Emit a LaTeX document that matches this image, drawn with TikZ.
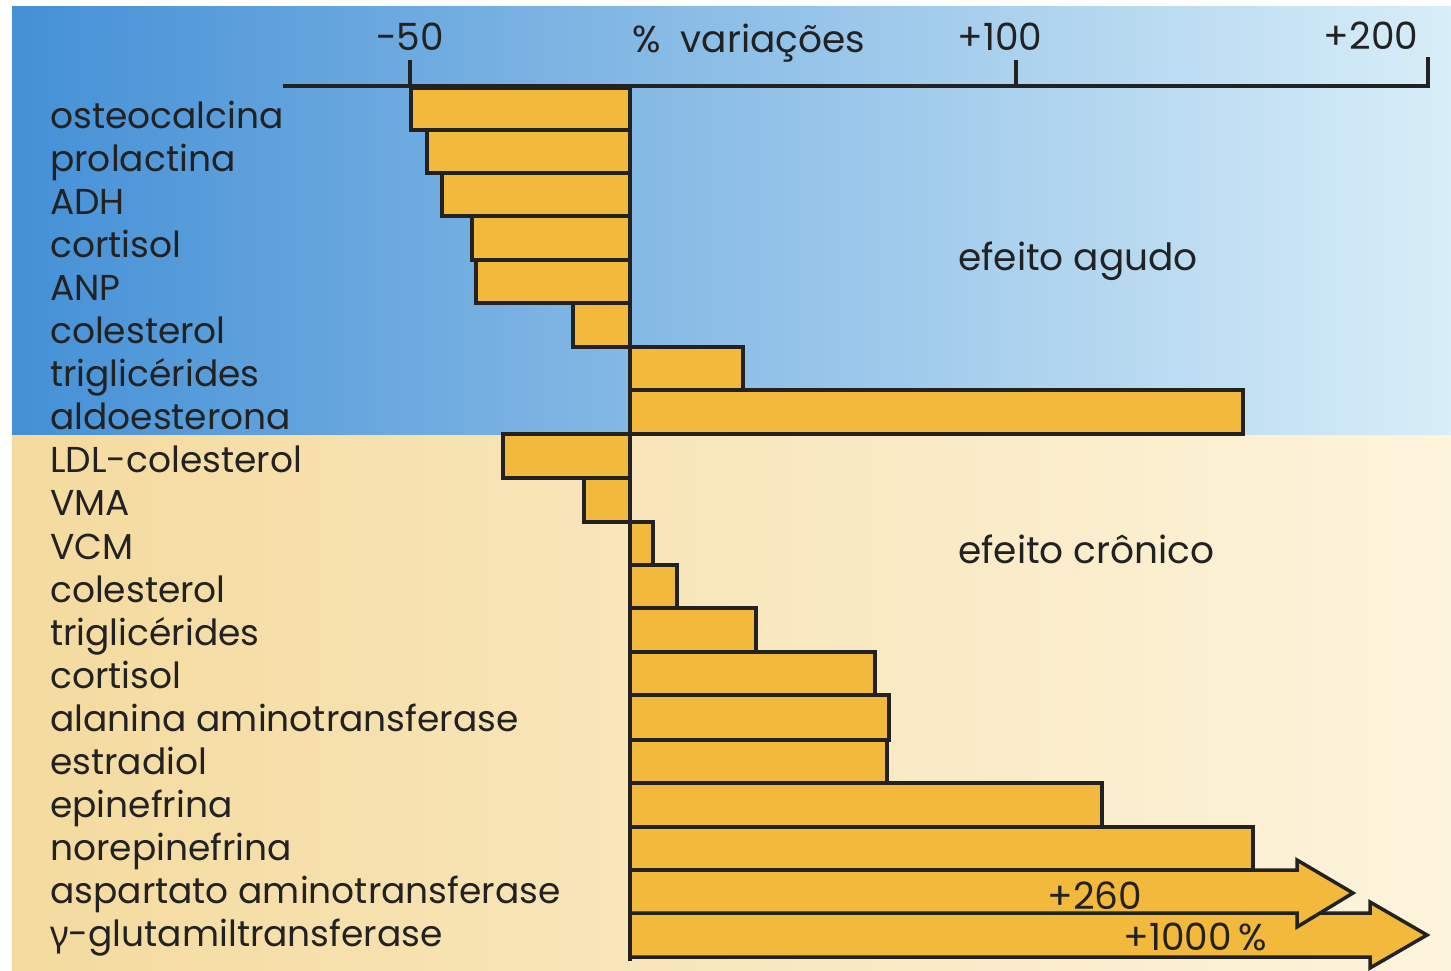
\documentclass[tikz,border=0pt]{standalone}
\usepackage{fontspec}
\setmainfont{Poppins}
\newfontfamily\greekfont{Noto Sans}
\definecolor{ink}{HTML}{222222}
\definecolor{barfill}{HTML}{F2B93C}
\definecolor{blueL}{HTML}{4490D6}
\definecolor{blueR}{HTML}{D8EEF8}
\definecolor{beigeL}{HTML}{F4DA9E}
\definecolor{beigeR}{HTML}{FDF4DC}
\tikzset{
  lbl/.style={anchor=base west, inner sep=0pt, text=ink, font=\fontsize{36}{40}\selectfont},
  biglbl/.style={anchor=base west, inner sep=0pt, text=ink, font=\fontsize{37.5}{42}\selectfont},
  axlbl/.style={anchor=base, inner sep=0pt, text=ink, font=\fontsize{37.5}{42}\selectfont},
  bar/.style={draw=ink, fill=barfill, line width=3.5pt, line join=miter},
  axis/.style={draw=ink, line width=3.5pt}
}
\begin{document}
\begin{tikzpicture}[x=1pt,y=-1pt]
\useasboundingbox (0,0) rectangle (1451,970);
\fill[white] (0,0) rectangle (1451,970);
\shade[left color=blueL, right color=blueR] (12,6) rectangle (1451,435);
\shade[left color=beigeL, right color=beigeR] (12,435) rectangle (1451,970);
% bars
\draw[bar] (411,88) rectangle (630,130);
\draw[bar] (427,130) rectangle (630,173);
\draw[bar] (442,173) rectangle (630,216);
\draw[bar] (472,216) rectangle (630,260);
\draw[bar] (476,260) rectangle (630,303);
\draw[bar] (573,303) rectangle (630,347);
\draw[bar] (630,347) rectangle (743,390);
\draw[bar] (630,390) rectangle (1243,434);
\draw[bar] (503,434) rectangle (630,478);
\draw[bar] (584,478) rectangle (630,522);
\draw[bar] (630,522) rectangle (653,565);
\draw[bar] (630,565) rectangle (677,608);
\draw[bar] (630,608) rectangle (756,652);
\draw[bar] (630,652) rectangle (875,695);
\draw[bar] (630,695) rectangle (889,740);
\draw[bar] (630,740) rectangle (887,783);
\draw[bar] (630,783) rectangle (1102,827);
\draw[bar] (630,827) rectangle (1253,870);
% arrows
\draw[bar] (630,913) -- (1370,913) -- (1370,902) -- (1427,935) -- (1370,968) -- (1370,957) -- (630,957) -- cycle;
\draw[bar] (630,870) -- (1297,870) -- (1297,860) -- (1353,893) -- (1297,927) -- (1297,913) -- (630,913) -- cycle;
\node[axlbl] (v260) at (1095,909) {+260};
\node[axlbl] (v1000) at (1195,950) {+1000\,\%};
% axis
\draw[axis] (283,86) -- (1428,86) -- (1428,57);
\draw[axis] (410,86) -- (410,60);
\draw[axis] (1016,86) -- (1016,60);
\draw[axis] (630,86) -- (630,961);
\node[axlbl] (m50) at (410,50) {-50};
\node[biglbl] (pv) at (632,52) {\%\ \ variações};
\node[axlbl] (p100) at (1000,50) {+100};
\node[axlbl] (p200) at (1371,49) {+200};
\node[biglbl] (ag) at (958,270) {efeito agudo};
\node[biglbl] (cr) at (958,563) {efeito crônico};
% labels
\foreach \t [count=\i from 0] in {osteocalcina,prolactina,ADH,cortisol,ANP,colesterol,triglicérides,aldoesterona,LDL-colesterol,VMA,VCM,colesterol,triglicérides,cortisol,alanina aminotransferase,estradiol,epinefrina,norepinefrina,aspartato aminotransferase,{{\greekfont γ}-glutamiltransferase}}
  \node[lbl] (l\i) at (50,{128+43.1*\i}) {\t};
\end{tikzpicture}
\end{document}
